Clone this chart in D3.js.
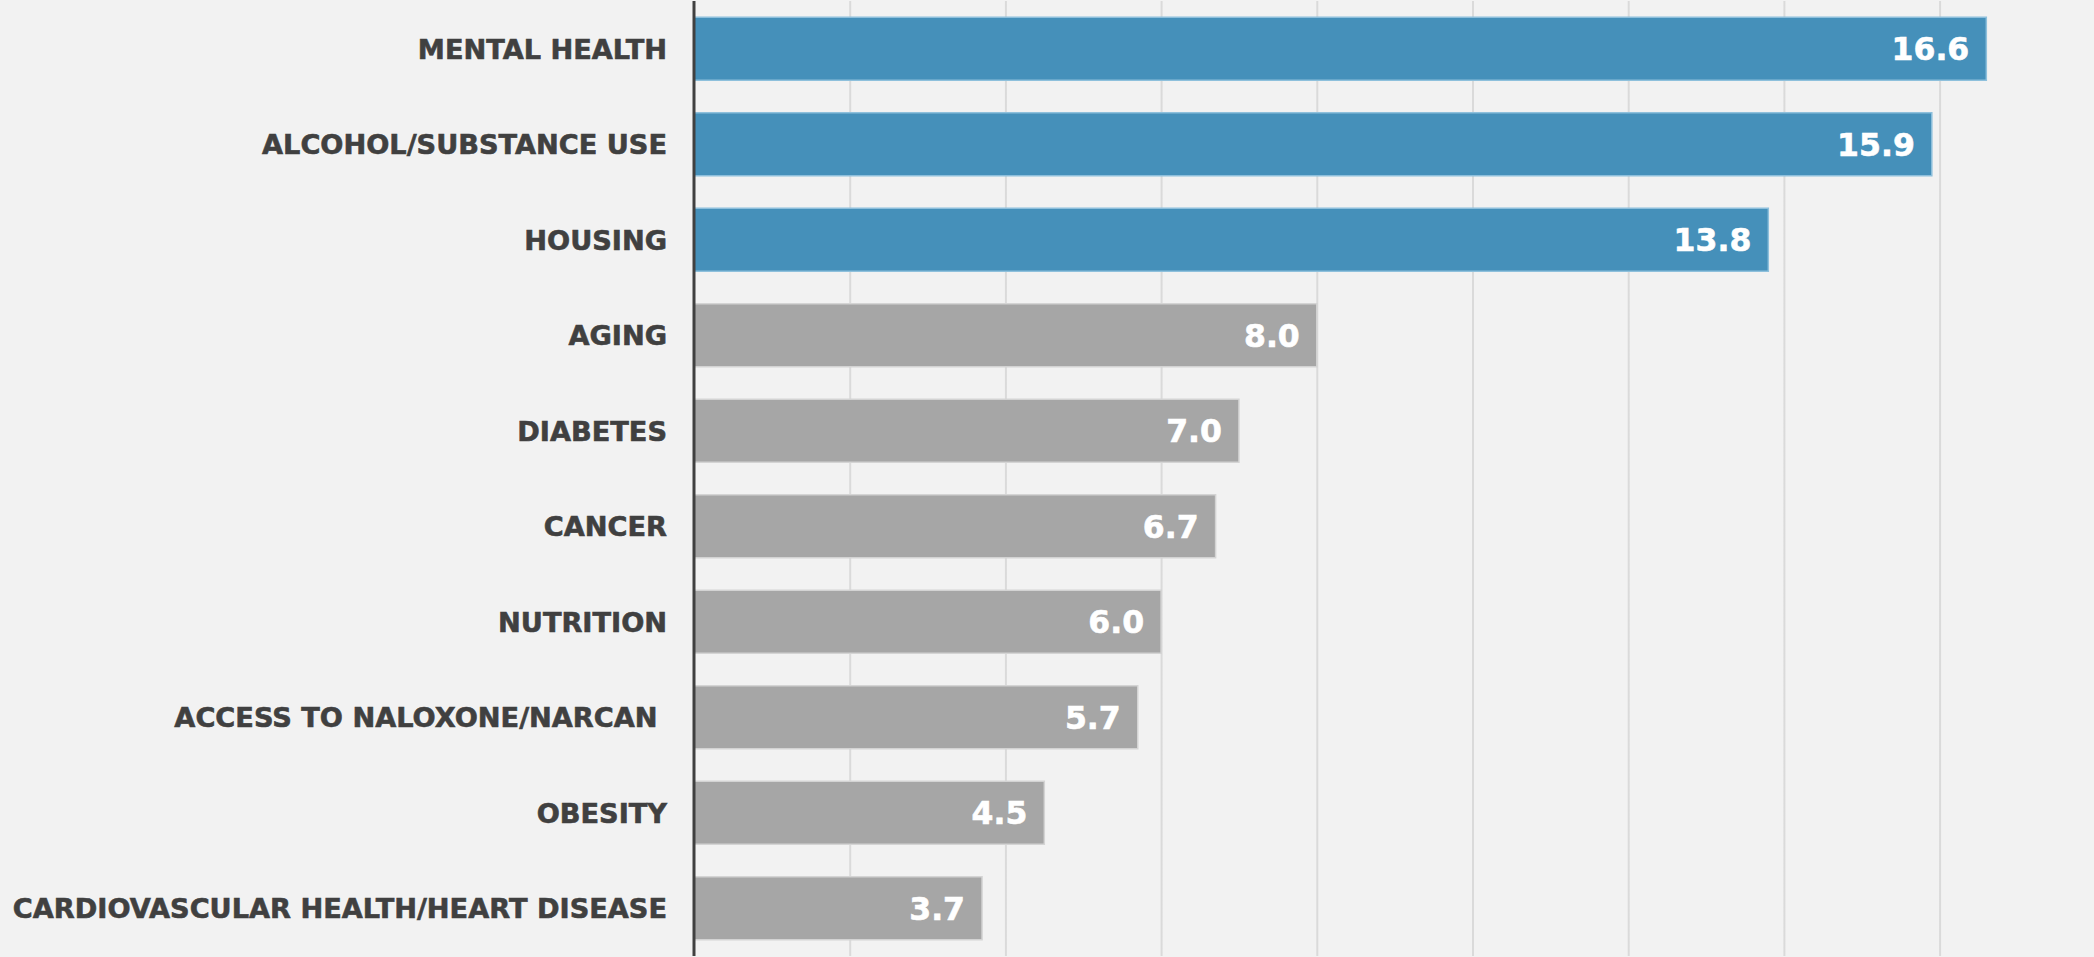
<!DOCTYPE html>
<meta charset="utf-8">
<style>
body { margin: 0; background: #f2f2f2; }
.cat { font-family: "DejaVu Sans", Verdana, sans-serif; font-weight: bold; fill: #404040; stroke: #404040; stroke-width: 0.6; white-space: pre; }
.val { font-family: "DejaVu Sans", Verdana, sans-serif; font-weight: bold; fill: #ffffff; stroke: #ffffff; stroke-width: 0.6; }
</style>
<body>
<script src="https://cdn.jsdelivr.net/npm/d3@7"></script>
<div id="chart"></div>
<script>
var categories = ["MENTAL HEALTH", "ALCOHOL/SUBSTANCE USE", "HOUSING", "AGING", "DIABETES",
  "CANCER", "NUTRITION", "ACCESS TO NALOXONE/NARCAN ", "OBESITY", "CARDIOVASCULAR HEALTH/HEART DISEASE"];
var values = [16.6, 15.9, 13.8, 8.0, 7.0, 6.7, 6.0, 5.7, 4.5, 3.7];
var highlighted = [true, true, true, false, false, false, false, false, false, false];
var xTicks = [2, 4, 6, 8, 10, 12, 14, 16, 18];

var width = 2094, height = 957;
var plotLeft = 694, plotTop = 1, plotBottom = 956;

var svg = d3.select("#chart").append("svg")
    .attr("width", width)
    .attr("height", height);

svg.append("rect").attr("width", width).attr("height", height).attr("fill", "#f2f2f2");

// gridlines get darker toward the bottom
var grad = svg.append("defs").append("linearGradient")
    .attr("id", "gridfade")
    .attr("gradientUnits", "userSpaceOnUse")
    .attr("x1", 0).attr("y1", plotTop).attr("x2", 0).attr("y2", plotBottom);
grad.append("stop").attr("offset", "0%").attr("stop-color", "#dadada");
grad.append("stop").attr("offset", "100%").attr("stop-color", "#8e8e8e");

var x = d3.scaleLinear()
    .domain([0, 18])
    .range([plotLeft, plotLeft + 18 * 77.85]);

var y = d3.scaleBand()
    .domain(categories)
    .range([plotTop, plotBottom])
    .paddingInner(0.34)
    .paddingOuter(0.17);

// vertical gridlines
svg.append("g")
    .attr("transform", "translate(0," + plotBottom + ")")
    .call(d3.axisBottom(x).tickValues(xTicks).tickSize(-(plotBottom - plotTop)).tickFormat(""))
    .call(function(g) { g.select(".domain").remove(); })
    .selectAll("line")
    .attr("stroke", "url(#gridfade)")
    .attr("stroke-width", 2);

// bars
svg.selectAll(".bar")
    .data(values)
  .enter().append("rect")
    .attr("class", "bar")
    .attr("x", x(0))
    .attr("y", function(d, i) { return y(categories[i]); })
    .attr("width", function(d) { return x(d) - x(0); })
    .attr("height", y.bandwidth())
    .attr("fill", function(d, i) { return highlighted[i] ? "#4590ba" : "#a6a6a6"; })
    .attr("stroke", function(d, i) { return highlighted[i] ? "#8ec0dc" : "#d4d4d4"; })
    .attr("stroke-width", 1.5);

// value labels inside bar ends
svg.selectAll(".val")
    .data(values)
  .enter().append("text")
    .attr("class", "val")
    .attr("x", function(d) { return x(d) - 17; })
    .attr("y", function(d, i) { return y(categories[i]) + y.bandwidth() / 2; })
    .attr("dy", "0.36em")
    .attr("text-anchor", "end")
    .style("font-size", "31.5px")
    .text(function(d) { return d.toFixed(1); });

// category labels
svg.selectAll(".cat")
    .data(categories)
  .enter().append("text")
    .attr("class", "cat")
    .attr("x", plotLeft - 27)
    .attr("y", function(d) { return y(d) + y.bandwidth() / 2; })
    .attr("dy", "0.36em")
    .attr("text-anchor", "end")
    .style("font-size", "27.2px")
    .text(function(d) { return d; });

// left axis line
svg.append("line")
    .attr("x1", plotLeft).attr("x2", plotLeft)
    .attr("y1", plotTop).attr("y2", plotBottom)
    .attr("stroke", "#404040")
    .attr("stroke-width", 3);
</script>
</body>
